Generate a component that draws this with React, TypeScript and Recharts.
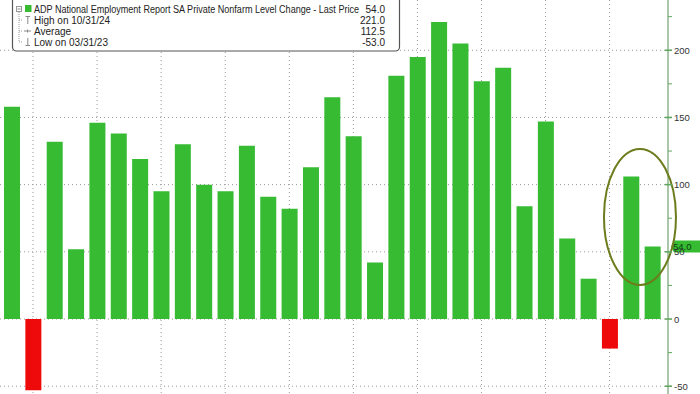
import {
  Bar,
  BarChart,
  CartesianGrid,
  Cell,
  ReferenceDot,
  ReferenceLine,
  XAxis,
  YAxis,
} from "recharts";

const months = [
  "Feb 23", "Mar 23", "Apr 23", "May 23", "Jun 23", "Jul 23", "Aug 23", "Sep 23",
  "Oct 23", "Nov 23", "Dec 23", "Jan 24", "Feb 24", "Mar 24", "Apr 24", "May 24",
  "Jun 24", "Jul 24", "Aug 24", "Sep 24", "Oct 24", "Nov 24", "Dec 24", "Jan 25",
  "Feb 25", "Mar 25", "Apr 25", "May 25", "Jun 25", "Jul 25", "Aug 25",
];

// monthly change in private payrolls, thousands
const changes = [
  158, -53, 132, 52, 146, 138, 119, 95, 130, 100, 95, 129, 91, 82, 113, 165,
  136, 42, 181, 195, 221, 205, 177, 187, 84, 147, 60, 30, -22, 106, 54,
];

const quarterMonths = [
  "Mar 23", "Jun 23", "Sep 23", "Dec 23", "Mar 24", "Jun 24", "Sep 24", "Dec 24", "Mar 25", "Jun 25",
];

const majorTicks = [-50, 0, 50, 100, 150, 200];
const axisTicks = [-50, -25, 0, 25, 50, 75, 100, 125, 150, 175, 200, 225];

const legendTitle = "ADP National Employment Report SA Private Nonfarm Level Change - Last Price";
const legendLabels = ["High on 10/31/24", "Average", "Low on 03/31/23"];
const legendValues = ["54.0", "221.0", "112.5", "-53.0"];

const lastValue = changes[changes.length - 1];

const GREEN = "#36bb33";
const RED = "#ee0a0a";
const FONT = "'Liberation Sans', Arial, sans-serif";

const data = months.map((m, i) => ({ month: m, value: changes[i] }));

function RightTick({ x, y, payload }: any) {
  const v = payload.value as number;
  const major = v % 50 === 0;
  return (
    <g>
      <line
        x1={major ? x - 3 : x}
        x2={x + 4}
        y1={y}
        y2={y}
        stroke="#5fa85f"
        strokeWidth={major ? 1.6 : 1}
      />
      {major && (
        <text x={x + 6} y={y} dy={3.5} fontSize={9.5} fontFamily={FONT} fill="#333">
          {v}
        </text>
      )}
    </g>
  );
}

function LastPriceLabel({ viewBox }: any) {
  const x = viewBox.x + viewBox.width + 3;
  const y = viewBox.y;
  return (
    <g>
      <path d={`M${x} ${y} L${x + 3} ${y - 6} L700 ${y - 6} L700 ${y + 6} L${x + 3} ${y + 6} Z`} fill={GREEN} />
      <text x={x + 2} y={y} dy={3.5} fontSize={9.5} fontFamily={FONT} fill="#0d3d0d">
        {lastValue.toFixed(1)}
      </text>
    </g>
  );
}

function Legend() {
  const rows = [12.5, 23.5, 34.5, 45.5];
  return (
    <svg width={700} height={394} style={{ position: "absolute", left: 0, top: 0, pointerEvents: "none" }}>
      <rect x={12.5} y={-5} width={387} height={56} rx={4} fill="#fff" stroke="#555" strokeWidth={1.2} />
      <line x1={19} x2={19} y1={12} y2={42} stroke="#999" strokeDasharray="1 1" />
      <rect x={16.5} y={6.5} width={5} height={5} fill="#fff" stroke="#999" />
      <line x1={17.5} x2={20.5} y1={9} y2={9} stroke="#888" />
      <rect x={25} y={5} width={6.5} height={7} fill={GREEN} />
      <line x1={19} x2={23} y1={20} y2={20} stroke="#999" strokeDasharray="1 1" />
      <line x1={25.5} x2={30} y1={16.5} y2={16.5} stroke="#888" />
      <line x1={27.8} x2={27.8} y1={16.5} y2={24} stroke="#888" />
      <line x1={19} x2={23} y1={31} y2={31} stroke="#999" strokeDasharray="1 1" />
      <line x1={24} x2={31} y1={31} y2={31} stroke="#888" />
      <line x1={27.5} x2={27.5} y1={29.5} y2={32.5} stroke="#888" />
      <line x1={19} x2={23} y1={42} y2={42} stroke="#999" strokeDasharray="1 1" />
      <line x1={27.8} x2={27.8} y1={38} y2={45.5} stroke="#888" />
      <line x1={25.5} x2={30} y1={45.5} y2={45.5} stroke="#888" />
      <text x={34} y={rows[0]} fontSize={10} fontFamily={FONT} fill="#222" textLength={325} lengthAdjust="spacingAndGlyphs">
        {legendTitle}
      </text>
      {legendLabels.map((t, i) => (
        <text key={t} x={34} y={rows[i + 1]} fontSize={10} fontFamily={FONT} fill="#222">
          {t}
        </text>
      ))}
      {legendValues.map((v, i) => (
        <text key={i} x={385} y={rows[i]} textAnchor="end" fontSize={10} fontFamily={FONT} fill="#222">
          {v}
        </text>
      ))}
    </svg>
  );
}

export default function App() {
  return (
    <div style={{ position: "fixed", left: 0, top: 0, width: 700, height: 394, background: "#fff" }}>
      <BarChart width={700} height={394} data={data} margin={{ top: 0, right: 0, bottom: 0, left: 0 }}>
        <CartesianGrid
          stroke="#999"
          strokeDasharray="1 3"
          horizontalValues={majorTicks}
          verticalValues={quarterMonths}
        />
        <XAxis dataKey="month" hide padding={{ left: 1, right: 5 }} />
        <YAxis
          orientation="right"
          width={32}
          domain={[-55.8, 237.4]}
          ticks={axisTicks}
          allowDataOverflow
          interval={0}
          tickSize={0}
          tickMargin={0}
          axisLine={{ stroke: "#8fb38f", strokeWidth: 1.5 }}
          tickLine={false}
          tick={<RightTick />}
        />
        <Bar dataKey="value" barSize={16} isAnimationActive={false}>
          {data.map((d) => (
            <Cell key={d.month} fill={d.value < 0 ? RED : GREEN} />
          ))}
        </Bar>
        <ReferenceLine y={lastValue} stroke="none" ifOverflow="visible" label={<LastPriceLabel />} />
        <ReferenceDot
          x={months[months.length - 2]}
          y={76}
          r={0}
          ifOverflow="visible"
          shape={(p: any) => (
            <ellipse cx={p.cx + 9} cy={p.cy} rx={36} ry={68} fill="none" stroke="#6b7d1c" strokeWidth={2} />
          )}
        />
      </BarChart>
      <Legend />
    </div>
  );
}
